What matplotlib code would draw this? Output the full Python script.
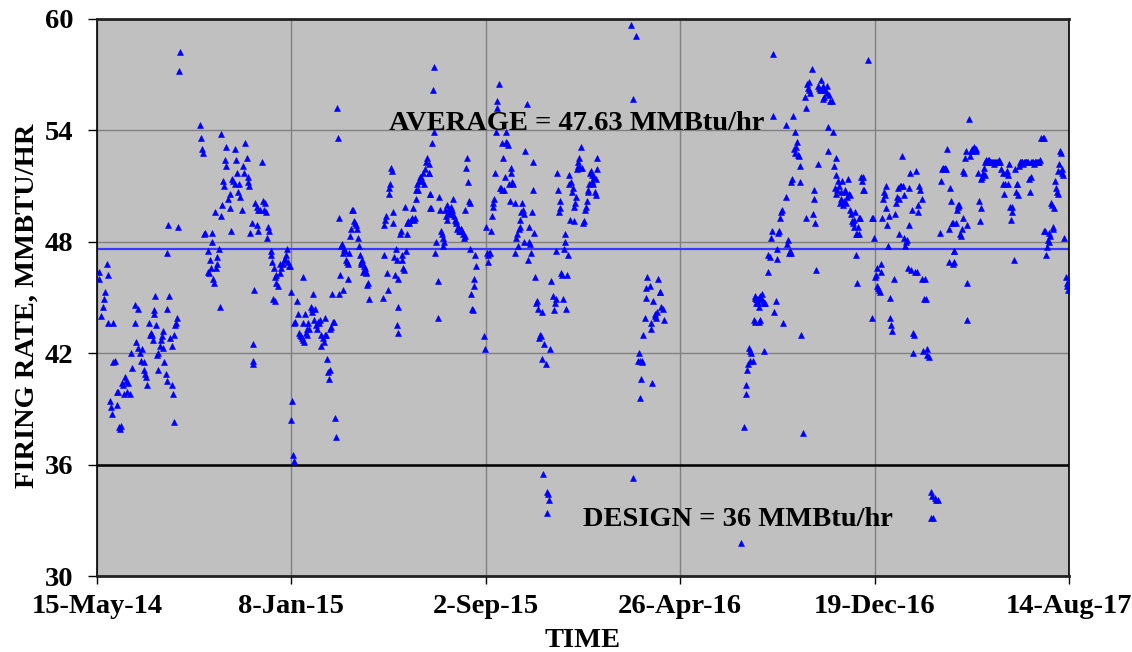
import numpy as np
import matplotlib
matplotlib.use("Agg")
import matplotlib.pyplot as plt
import matplotlib.dates as mdates

# Daily firing-rate readings, day counted from the start date (MMBtu/hr)
start_date = np.datetime64("2014-05-15")
end_date = np.datetime64("2017-08-14")
tick_labels = ["15-May-14", "8-Jan-15", "2-Sep-15", "26-Apr-16", "19-Dec-16", "14-Aug-17"]
average_rate = 47.63
design_rate = 36.0

day_2014a = [2, 3, 12, 13, 10, 9, 7, 5, 14, 20,
             20, 22, 16, 17, 18, 25, 27, 28, 29, 24,
             26, 30, 32, 34, 36, 38, 37, 40, 33, 42,
             43, 46, 50, 46, 48, 50, 52, 54, 55, 57,
             58, 59, 60, 61, 64, 65, 66, 67, 68, 69,
             70, 71, 72, 73, 74, 75, 77, 78, 79, 80,
             81, 82, 84, 85, 85, 88, 89, 91, 92, 93,
             94, 95, 97, 98, 94, 101, 100, 87, 99, 86,
             126, 127, 128, 129, 152, 132, 131, 140, 141, 136,
             149, 138, 139, 135, 137, 142, 143, 146, 147, 145,
             150, 144, 151, 153, 154, 155, 156, 157, 158, 160,
             162, 163, 164, 165, 166, 168, 169, 170, 171, 172,
             174, 175, 177, 178, 180, 181, 183, 184, 185, 186,
             187, 189, 192, 191, 190, 191, 193, 195, 197, 199,
             201, 203, 196, 197]
rate_2014a = [46.4, 46.0, 46.8, 46.2, 45.3, 44.9, 44.5, 44.0, 43.6, 43.6,
              41.5, 41.6, 39.4, 39.1, 38.7, 39.2, 38.0, 37.9, 38.1, 39.9,
              39.9, 40.4, 40.3, 40.7, 40.5, 40.4, 39.9, 39.8, 39.8, 42.0,
              41.2, 44.6, 44.4, 43.6, 42.6, 42.3, 42.0, 41.6, 42.2, 41.5,
              41.1, 40.9, 40.7, 40.3, 43.6, 43.0, 43.1, 43.0, 42.7, 44.1,
              44.3, 45.1, 43.5, 41.9, 42.0, 41.1, 42.4, 42.7, 42.9, 43.2,
              42.3, 41.5, 40.9, 40.5, 44.4, 45.1, 42.8, 42.4, 40.3, 39.8,
              43.0, 43.5, 43.6, 43.9, 38.3, 58.2, 57.2, 48.9, 48.8, 47.4,
              54.3, 53.6, 53.0, 52.8, 53.8, 48.5, 48.4, 48.5, 48.0, 47.5,
              47.6, 47.0, 46.6, 46.4, 46.3, 46.0, 45.8, 47.2, 46.8, 46.6,
              44.5, 49.6, 49.4, 50.0, 51.3, 51.0, 52.4, 52.1, 53.1, 50.3,
              49.8, 50.6, 48.6, 51.4, 51.3, 53.0, 51.1, 52.4, 51.7, 50.7,
              51.1, 50.4, 49.7, 52.1, 51.7, 53.3, 52.5, 51.5, 51.2, 51.0,
              48.5, 49.0, 45.4, 42.5, 41.4, 41.6, 50.1, 49.9, 49.7, 49.7,
              52.3, 50.2, 48.9, 48.6]

day_2014b = [204, 206, 205, 209, 210, 208, 212, 213, 214, 216,
             217, 218, 215, 217, 219, 221, 223, 224, 225, 227,
             228, 230, 231, 232, 233, 234, 236, 237, 238, 237,
             239, 240, 241, 242, 244, 246, 247, 248, 249, 250,
             251, 252, 253, 254, 255, 256, 257, 258, 259, 261,
             262, 263, 264, 265, 266, 268, 269, 270, 271, 272,
             273, 274, 276, 277, 278, 279, 280, 281, 282, 283,
             284, 285, 286, 288, 289, 251, 291, 292, 293, 294,
             295, 287, 296, 297, 298, 299, 300, 301, 302, 303,
             304, 305, 306, 306, 308, 309, 310, 311, 313, 314,
             315, 316, 317, 319, 320, 321, 322, 323, 324, 325,
             326, 327, 328, 329, 330, 331, 332, 349, 350, 351,
             352, 353, 354, 355, 356, 357, 358, 359, 360, 361,
             362, 363, 364, 365, 366, 367, 366, 367, 368, 370,
             371, 372, 373, 374, 375, 376, 377, 378, 379, 380,
             381, 383, 385, 386, 387, 388, 389, 390, 391, 392,
             393, 394, 396, 397, 398, 399, 401, 402, 403, 405,
             406, 407, 407]
rate_2014b = [49.7, 49.6, 50.1, 48.8, 48.6, 48.2, 47.5, 47.3, 46.9, 46.6,
              46.1, 45.8, 44.9, 44.8, 46.2, 45.6, 46.8, 46.3, 46.6, 46.8,
              47.0, 47.1, 47.3, 47.6, 46.9, 46.7, 46.7, 45.3, 39.4, 38.4,
              36.5, 36.2, 43.6, 43.7, 44.8, 44.1, 43.1, 43.0, 42.9, 42.8,
              43.6, 42.7, 42.6, 44.1, 43.1, 43.3, 43.0, 43.6, 43.3, 44.5,
              44.2, 44.4, 45.2, 43.8, 44.4, 43.5, 43.3, 43.7, 43.6, 43.8,
              43.0, 42.4, 42.8, 42.6, 43.9, 43.0, 43.0, 41.7, 41.0, 40.6,
              41.1, 43.3, 43.4, 43.7, 43.7, 46.1, 38.5, 37.5, 55.2, 53.6,
              49.3, 45.2, 45.2, 46.2, 47.8, 47.9, 47.4, 45.4, 47.6, 47.5,
              47.0, 46.9, 46.8, 46.0, 47.4, 48.3, 48.7, 49.7, 49.7, 49.1,
              49.0, 48.9, 48.7, 48.2, 47.8, 47.3, 46.9, 46.8, 47.0, 46.4,
              46.7, 46.6, 46.3, 46.4, 45.7, 45.8, 44.9, 45.0, 47.3, 48.9,
              49.2, 49.4, 46.3, 45.4, 50.6, 50.9, 51.1, 52.0, 51.8, 49.6,
              49.0, 47.2, 46.2, 47.6, 47.0, 44.5, 43.5, 43.1, 46.0, 48.4,
              48.6, 47.3, 47.0, 46.6, 46.5, 49.9, 47.5, 48.4, 49.0, 49.1,
              49.0, 49.2, 49.3, 49.8, 49.2, 49.3, 50.3, 50.8, 51.1, 50.8,
              51.3, 51.5, 51.5, 51.3, 51.7, 51.1, 51.9, 52.3, 52.5, 52.2,
              51.7, 49.8, 50.6]

day_2015 = [411, 410, 412, 409, 405, 407, 408, 414, 413, 416,
            417, 418, 419, 420, 421, 422, 423, 424, 425, 426,
            427, 428, 429, 430, 431, 432, 433, 434, 435, 436,
            437, 438, 439, 440, 441, 442, 443, 444, 445, 446,
            447, 448, 449, 450, 451, 452, 453, 454, 455, 456,
            457, 458, 459, 460, 461, 462, 463, 473, 474, 475,
            476, 477, 478, 479, 480, 481, 482, 483, 484, 485,
            486, 487, 488, 489, 491, 492, 493, 494, 495, 496,
            497, 498, 499, 500, 501, 502, 503, 504, 505, 506,
            507, 508, 510, 511, 512, 513, 514, 515, 516, 517,
            518, 519, 520, 521, 522, 523, 525, 526, 527, 528,
            529, 530, 531, 532, 533, 534, 535, 536, 537, 538,
            540, 541, 542, 543, 544, 545, 546, 548, 549, 551,
            552, 549, 553, 555, 557, 558, 559, 560, 561, 562,
            563, 564, 565, 566, 567, 568, 569, 570, 571, 572,
            573, 574, 575, 576, 577, 578, 579, 580, 581, 582,
            583, 584, 585, 586, 587, 588, 589, 590, 591, 592,
            594, 595, 596, 597, 598, 599, 600, 601, 602]
rate_2015 = [57.4, 56.2, 53.9, 53.3, 51.7, 50.6, 49.8, 48.0, 47.4, 45.9,
             43.9, 50.4, 49.7, 48.6, 48.4, 48.2, 47.8, 48.0, 49.7, 49.4,
             50.0, 49.2, 49.7, 49.6, 49.5, 49.9, 49.7, 49.5, 50.3, 49.4,
             49.2, 49.1, 49.0, 48.7, 48.8, 48.6, 48.6, 48.7, 48.7, 48.6,
             48.4, 48.2, 48.3, 49.7, 52.0, 52.5, 51.2, 50.2, 50.1, 47.6,
             45.2, 44.4, 44.3, 45.6, 46.0, 47.3, 46.7, 42.9, 42.2, 48.8,
             47.4, 46.9, 47.3, 47.4, 47.4, 48.6, 49.4, 49.9, 50.1, 50.3,
             51.7, 53.9, 55.2, 55.6, 56.5, 50.9, 50.9, 53.3, 50.8, 52.5,
             50.8, 51.5, 53.9, 53.4, 53.3, 53.2, 51.1, 50.2, 52.0, 51.7,
             51.2, 51.1, 50.1, 47.4, 48.2, 48.4, 47.8, 48.7, 48.8, 49.2,
             49.6, 50.1, 49.7, 48.0, 49.5, 52.9, 55.4, 47.0, 48.8, 48.0,
             47.9, 47.4, 49.6, 50.8, 52.3, 48.5, 46.1, 44.7, 44.8, 44.4,
             42.8, 43.0, 42.9, 41.7, 44.2, 35.5, 42.5, 41.4, 34.5, 34.4,
             34.1, 33.4, 42.2, 45.9, 45.1, 44.3, 44.7, 44.9, 47.5, 51.7,
             50.8, 49.6, 49.8, 50.2, 46.3, 46.2, 44.9, 47.6, 48.4, 48.0,
             44.4, 46.2, 47.3, 51.6, 51.1, 49.2, 51.2, 50.7, 50.9, 49.1,
             49.9, 50.1, 50.4, 51.9, 52.3, 52.1, 52.5, 52.0, 53.1, 52.0,
             49.0, 49.1, 49.7, 49.9, 50.2, 50.8, 50.7, 51.1, 51.7]

day_2016a = [603, 604, 605, 606, 607, 608, 609, 610, 611, 609,
             652, 658, 655, 654, 672, 675, 671, 670, 679, 685,
             687, 688, 669, 676, 677, 681, 682, 683, 684, 689,
             691, 692, 667, 662, 661, 663, 665, 666, 664, 678,
             663, 786, 790, 792, 793, 794, 795, 797, 798, 799,
             801, 802, 803, 805, 806, 808, 809, 796]
rate_2016a = [51.8, 51.6, 51.3, 51.1, 51.5, 50.7, 50.5, 51.9, 52.5, 51.4,
              59.7, 59.1, 55.7, 35.3, 46.1, 45.6, 45.5, 45.0, 44.8, 46.0,
              45.3, 45.3, 43.9, 43.6, 43.3, 44.0, 44.1, 43.9, 44.2, 44.5,
              44.4, 43.8, 43.0, 42.0, 41.6, 41.6, 41.5, 41.6, 40.6, 40.4,
              39.6, 31.8, 38.0, 39.8, 40.3, 41.1, 41.4, 41.6, 42.1, 42.0,
              41.6, 43.8, 45.0, 44.7, 44.9, 44.5, 43.7, 42.3]

day_2016b = [804, 805, 807, 808, 810, 811, 812, 813, 814, 815,
             816, 804, 810, 815, 829, 827, 838, 860, 862, 819,
             820, 822, 823, 824, 826, 825, 830, 831, 832, 833,
             834, 835, 836, 842, 841, 843, 844, 845, 846, 847,
             848, 849, 850, 851, 852, 853, 854, 855, 856, 857,
             858, 859, 865, 866, 867, 868, 869, 870, 871, 873,
             875, 876, 874, 877, 866, 878, 880, 881, 882, 883,
             884, 885, 886, 887, 888, 889, 891, 892, 894, 895,
             897, 899, 893, 893, 900, 902, 903, 901, 903, 904,
             905, 906, 907, 908, 909, 910, 911, 912, 913, 914,
             915, 916, 917, 918, 919, 920, 921, 922, 923, 924,
             925, 926, 927, 928, 929, 930, 931, 932, 933, 934,
             935, 936, 937, 941, 927, 928, 946, 947, 948, 949,
             950, 951, 952, 953, 954, 955, 956, 957, 958, 959,
             960, 961, 962, 963, 964, 965, 966, 967, 968, 969,
             970, 971, 973, 975, 976, 977, 978, 979, 980, 981,
             982, 983, 984, 985, 986, 987, 988, 989, 990, 991,
             992, 993, 994, 995, 996, 997, 998, 999, 1000, 1001,
             1002, 1003, 1004, 1005, 1007, 1008, 1009, 1010]
rate_2016b = [45.1, 44.9, 44.7, 45.0, 45.1, 44.9, 45.2, 44.8, 44.7, 44.7,
              44.7, 43.7, 43.8, 42.1, 44.8, 44.2, 43.6, 43.0, 37.7, 46.4,
              47.3, 47.2, 48.2, 48.6, 58.1, 54.8, 47.1, 47.6, 48.5, 48.6,
              49.3, 49.6, 49.7, 50.4, 54.3, 47.9, 48.1, 47.4, 47.5, 47.4,
              51.2, 51.4, 54.8, 53.0, 53.9, 52.8, 53.1, 53.4, 52.7, 52.6,
              52.1, 51.2, 55.8, 55.2, 56.5, 56.3, 56.6, 56.2, 56.0, 57.3,
              50.8, 50.3, 49.5, 49.0, 49.3, 46.5, 52.2, 56.4, 56.3, 56.2,
              56.7, 56.2, 56.4, 55.7, 55.8, 56.2, 56.4, 56.0, 55.9, 55.6,
              55.6, 53.9, 54.2, 52.9, 52.1, 52.5, 51.6, 50.9, 50.6, 50.8,
              51.3, 51.0, 50.1, 50.3, 50.7, 51.3, 50.0, 50.2, 50.8, 50.7,
              50.1, 50.4, 51.4, 50.6, 50.5, 49.7, 49.5, 49.1, 49.0, 48.8,
              49.2, 49.6, 48.4, 48.4, 48.8, 48.4, 49.3, 49.3, 51.5, 51.3,
              51.5, 50.8, 50.8, 57.8, 47.3, 45.8, 43.9, 49.3, 49.3, 48.2,
              46.1, 46.2, 46.6, 45.6, 45.5, 45.4, 45.3, 46.8, 46.4, 49.3,
              50.3, 50.7, 50.5, 49.8, 51.0, 48.9, 47.8, 49.4, 45.0, 43.9,
              43.5, 43.2, 46.0, 49.5, 50.1, 50.4, 50.9, 50.3, 48.4, 51.0,
              51.0, 52.6, 51.0, 50.5, 48.2, 47.8, 48.0, 48.1, 46.6, 50.9,
              48.9, 51.7, 46.5, 49.7, 43.1, 42.0, 43.0, 46.4, 51.8, 46.4,
              50.0, 49.6, 51.0, 50.8, 46.0, 50.3, 42.1, 44.9]

day_2017 = [1011, 1012, 1013, 1014, 1016, 1018, 1020, 1023, 1025, 1027,
            1019, 1021, 1030, 1031, 1032, 1033, 1034, 1035, 1036, 1037,
            1038, 1040, 1041, 1042, 1043, 1044, 1045, 1046, 1047, 1045,
            1047, 1049, 1050, 1051, 1052, 1053, 1054, 1055, 1056, 1057,
            1058, 1059, 1060, 1061, 1062, 1062, 1063, 1065, 1066, 1067,
            1068, 1069, 1070, 1071, 1072, 1073, 1074, 1076, 1077, 1078,
            1079, 1080, 1081, 1082, 1083, 1084, 1085, 1086, 1088, 1090,
            1092, 1094, 1096, 1098, 1100, 1102, 1104, 1106, 1107, 1108,
            1109, 1110, 1111, 1112, 1113, 1114, 1115, 1116, 1117, 1118,
            1120, 1121, 1122, 1123, 1124, 1125, 1126, 1128, 1130, 1132,
            1134, 1136, 1138, 1139, 1140, 1141, 1143, 1145, 1147, 1149,
            1151, 1153, 1155, 1156, 1157, 1158, 1159, 1160, 1161, 1162,
            1163, 1164, 1165, 1166, 1167, 1168, 1169, 1170, 1171, 1172,
            1173, 1174, 1175, 1176, 1177, 1178, 1179, 1180, 1181, 1183,
            1184, 1185, 1186,
            1087, 1089, 1091, 1093, 1095, 1097, 1099, 1101, 1103,
            1127, 1129, 1131, 1133, 1135, 1137, 1142, 1144, 1146, 1148, 1150]
rate_2017 = [46.0, 44.9, 42.2, 41.9, 41.8, 34.5, 34.3, 34.2, 34.1, 34.1,
             33.1, 33.1, 48.5, 51.3, 51.9, 52.0, 51.9, 51.9, 52.0, 51.9,
             53.0, 48.7, 46.9, 50.9, 50.2, 49.0, 49.0, 47.5, 47.5, 46.8,
             46.9, 49.0, 49.7, 50.0, 49.9, 50.0, 48.4, 48.3, 48.7, 49.3,
             51.8, 51.7, 52.5, 52.9, 48.9, 43.8, 45.8, 54.6, 52.6, 52.9,
             52.9, 53.0, 53.0, 53.1, 53.0, 53.0, 52.9, 51.7, 50.2, 49.1,
             49.8, 51.4, 51.5, 51.7, 52.0, 51.6, 52.3, 52.4, 52.4, 52.3,
             52.3, 52.3, 52.3, 52.3, 52.3, 52.3, 51.9, 51.7, 51.1, 50.6,
             51.1, 51.7, 51.8, 51.6, 51.1, 52.2, 49.9, 49.2, 49.6, 49.9,
             47.0, 51.9, 50.7, 51.1, 51.1, 50.5, 52.1, 52.3, 52.3, 52.3,
             52.3, 52.3, 51.4, 50.7, 51.5, 52.3, 52.3, 52.3, 52.3, 52.3,
             52.4, 53.6, 53.6, 53.6, 48.6, 48.6, 47.3, 47.7, 48.1, 48.0,
             48.5, 48.3, 50.1, 50.0, 48.8, 48.7, 49.8, 51.3, 50.9, 50.7,
             50.6, 51.8, 52.2, 52.9, 52.8, 51.7, 51.9, 51.6, 48.2, 46.1,
             45.8, 45.6, 45.4,
             52.3, 52.4, 52.3, 52.3, 52.2, 52.3, 52.3, 52.4, 52.3,
             52.3, 52.3, 52.2, 52.3, 52.3, 52.3, 52.3, 52.2, 52.3, 52.3, 52.3]

days = np.concatenate([day_2014a, day_2014b, day_2015, day_2016a, day_2016b, day_2017])
rates = np.concatenate([rate_2014a, rate_2014b, rate_2015, rate_2016a, rate_2016b, rate_2017])
dates = start_date + days.astype("timedelta64[D]")

FONT = "Liberation Serif"
FS = 20.5

fig = plt.figure(figsize=(11.32, 6.52), dpi=100)
fig.patch.set_facecolor("white")
ax = fig.add_axes([97 / 1132, 1 - 576 / 652, (1069 - 97) / 1132, (576 - 19) / 652])
ax.set_facecolor("#C0C0C0")

x0 = mdates.date2num(start_date)
x1 = mdates.date2num(end_date)
ax.set_xlim(x0, x1)
ax.set_ylim(30, 60)

ax.set_xticks(np.linspace(x0, x1, len(tick_labels)))
ax.set_xticklabels(tick_labels)
ax.set_yticks(np.arange(30, 61, 6))

ax.set_axisbelow(True)
ax.grid(True, color="#808080", linewidth=1.0)

ax.axhline(average_rate, color="#3737FF", linewidth=1.6, zorder=2)
ax.axhline(design_rate, color="black", linewidth=1.8, zorder=2)

ax.plot(mdates.date2num(dates), rates, linestyle="none", marker="^",
        markersize=4.3, color="#0000FF", markeredgecolor="#0000FF",
        markeredgewidth=0.4, zorder=3)

ax.text(mdates.date2num(start_date + np.timedelta64(586, "D")), 54.0,
        f"AVERAGE = {average_rate:.2f} MMBtu/hr", ha="center", va="baseline",
        fontsize=FS, fontweight="bold", family=FONT, zorder=4)
ax.text(mdates.date2num(start_date + np.timedelta64(783, "D")), 32.7,
        f"DESIGN = {design_rate:.0f} MMBtu/hr", ha="center", va="baseline",
        fontsize=FS, fontweight="bold", family=FONT, zorder=4)

for side in ["left", "right"]:
    ax.spines[side].set_color("black")
    ax.spines[side].set_linewidth(1.2)
for side in ["top", "bottom"]:
    ax.spines[side].set_color("#222222")
    ax.spines[side].set_linewidth(2.0)

ax.tick_params(axis="y", direction="out", length=6.5, width=1, pad=10.5, colors="black")
ax.tick_params(axis="x", direction="out", length=6, width=1, pad=7, colors="black")
for lab in ax.get_xticklabels() + ax.get_yticklabels():
    lab.set_family(FONT)
    lab.set_fontweight("bold")
    lab.set_fontsize(FS)

fig.text(27.5 / 1132, 1 - 306 / 652, "FIRING RATE, MMBTU/HR", rotation=90,
         ha="center", va="center", fontsize=FS, fontweight="bold", family=FONT)
fig.text(583 / 1132, (652 - 647) / 652, "TIME", ha="center", va="baseline",
         fontsize=FS, fontweight="bold", family=FONT)

fig.savefig("out.png", dpi=100)
